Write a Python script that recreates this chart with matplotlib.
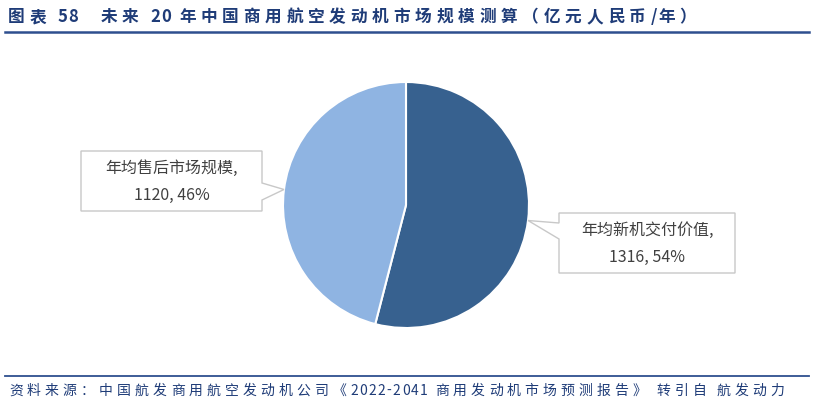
import numpy as np
import matplotlib.pyplot as plt
from matplotlib.patches import Polygon

plt.rcParams['font.family'] = ['Noto Sans CJK SC', 'DejaVu Sans']

# data
labels = ['年均新机交付价值', '年均售后市场规模']
values = [1316, 1120]
colors = ['#37618F', '#8FB4E2']

title = '图表 58   未来 20 年中国商用航空发动机市场规模测算（亿元人民币/年）'
source = '资料来源：中国航发商用航空发动机公司《2022-2041 商用发动机市场预测报告》 转引自 航发动力'

W, H = 814, 408
fig = plt.figure(figsize=(W / 100, H / 100), dpi=100)
ax = fig.add_axes([0, 0, 1, 1])
ax.set_xlim(0, W)
ax.set_ylim(0, H)
ax.set_aspect('equal')
ax.axis('off')
renderer = fig.canvas.get_renderer()


def spaced_text(x, y, s, wide_gap, narrow_gap, space, **kw):
    '''draw a string char by char, wider gaps after CJK chars'''
    for ch in s:
        if ch == ' ':
            x += space
            continue
        t = ax.text(x, y, ch, ha='left', va='center', **kw)
        wpx = t.get_window_extent(renderer).width
        x += wpx + (wide_gap if ord(ch) > 0x2E80 else narrow_gap)


# pie in pixel coords (y up)
cx, cy, r = 406, H - 205, 123
wedges, _ = ax.pie(values, colors=colors, startangle=90, counterclock=False,
                   center=(cx, cy), radius=r,
                   wedgeprops=dict(edgecolor='white', linewidth=1.5))
ax.set_xlim(0, W)
ax.set_ylim(0, H)

pct = [v / sum(values) * 100 for v in values]

# callout boxes: (left, top, right, bottom) in image px, pointer base on side
boxes = [
    dict(box=(559, 213, 735, 273), side='left', base=(223, 239)),
    dict(box=(81, 151, 262, 211), side='right', base=(183, 200)),
]

for w, lab, v, p, b in zip(wedges, labels, values, pct, boxes):
    mid = np.deg2rad((w.theta1 + w.theta2) / 2)
    tx, ty = cx + r * np.cos(mid), cy + r * np.sin(mid)
    x0, y0, x1, y1 = b['box']
    y0, y1 = H - y0, H - y1
    b0, b1 = H - b['base'][0], H - b['base'][1]
    if b['side'] == 'left':
        pts = [(x0, y0), (x1, y0), (x1, y1), (x0, y1), (x0, b1), (tx, ty), (x0, b0)]
    else:
        pts = [(x0, y0), (x1, y0), (x1, b0), (tx, ty), (x1, b1), (x1, y1), (x0, y1)]
    ax.add_patch(Polygon(pts, closed=True, facecolor='white',
                         edgecolor='#C8C8C8', linewidth=1.0, zorder=3))
    xm = (x0 + x1) / 2
    ax.text(xm, (y0 + y1) / 2 + 13, f'{lab},', ha='center', va='center',
            fontsize=11.5, color='#404040', zorder=4)
    ax.text(xm, (y0 + y1) / 2 - 14, f'{v}, {p:.0f}%', ha='center', va='center',
            fontsize=11.5, color='#404040', zorder=4)

# title and footer
navy = '#1F3C78'
spaced_text(8, H - 17, title, 4.8, 1.0, 7, fontsize=12, fontweight='bold',
            color=navy)
ax.plot([5, 809], [H - 32, H - 32], color='#2E4F8F', linewidth=1.8)
ax.plot([5, 809], [H - 376, H - 376], color='#2E4F8F', linewidth=1.3)
spaced_text(9, H - 391, source, 4.1, 1.3, 6, fontsize=10, color=navy,
            fontstyle='italic')

fig.savefig('out.png', dpi=100)
